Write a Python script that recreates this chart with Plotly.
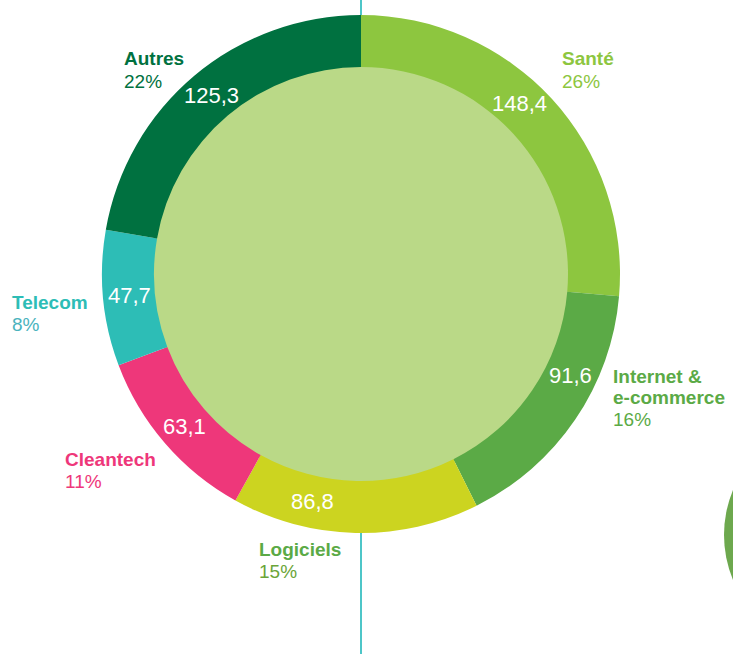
import math
import plotly.graph_objects as go

# ---- data ----
categories = ["Santé", "Internet &<br>e-commerce", "Logiciels", "Cleantech", "Telecom", "Autres"]
values = [148.4, 91.6, 86.8, 63.1, 47.7, 125.3]

# ---- styles ----
slice_colors = ["#8DC63F", "#5BAA46", "#CCD420", "#EE377A", "#2DBDB6", "#007140"]
name_colors = ["#8DC63F", "#5BAA46", "#5BAA46", "#EE377A", "#2DBDB6", "#007140"]
pct_colors = ["#8DC63F", "#5BAA46", "#6BA539", "#EE377A", "#4AB3BD", "#007140"]
# label anchor (left x, y of first line) in pixels
label_pos = [(560, 59), (611, 376), (257, 549), (63, 459), (10, 302), (122, 59)]
# angular nudge (deg) of value text inside the ring
value_nudge = [-4.5, -8.5, 10.7, 0, 0, 0]

W, H = 733, 654
CX, CY = 361, 274
R_OUT, R_IN = 259, 207
FONT = "Liberation Sans"

def px(x):
    return x / W

def py(y):
    return 1 - y / H

fig = go.Figure()
fig.add_trace(go.Pie(
    labels=categories,
    values=values,
    hole=R_IN / R_OUT,
    sort=False,
    direction="clockwise",
    rotation=0,
    marker=dict(colors=slice_colors, line=dict(width=0)),
    textinfo="none",
    hoverinfo="label+value",
    showlegend=False,
    domain=dict(x=[px(CX - R_OUT), px(CX + R_OUT)],
                y=[py(CY + R_OUT), py(CY - R_OUT)]),
))

total = sum(values)
annotations = []
cum = 0.0
for i, v in enumerate(values):
    mid = (cum + v / 2) / total * 360 + value_nudge[i]
    cum += v
    r = (R_OUT + R_IN) / 2
    tx = CX + r * math.sin(math.radians(mid))
    ty = CY - r * math.cos(math.radians(mid))
    annotations.append(dict(
        x=px(tx), y=py(ty), xref="paper", yref="paper",
        text=f"{v:.1f}".replace(".", ","), showarrow=False,
        font=dict(family=FONT, size=22, color="white"),
        xanchor="center", yanchor="middle"))
    pct = f"{round(v / total * 100)}%"
    lx, ly = label_pos[i]
    lines = categories[i].split("<br>")
    for j, ln in enumerate(lines):
        annotations.append(dict(
            x=px(lx), y=py(ly + 21 * j), xref="paper", yref="paper",
            text=f"<b>{ln}</b>", showarrow=False,
            font=dict(family=FONT, size=19, color=name_colors[i]),
            xanchor="left", yanchor="middle"))
    annotations.append(dict(
        x=px(lx), y=py(ly + 21 * len(lines) + 1), xref="paper", yref="paper",
        text=pct, showarrow=False,
        font=dict(family=FONT, size=19, color=pct_colors[i]),
        xanchor="left", yanchor="middle"))

shapes = [
    dict(type="line", xref="paper", yref="paper", x0=px(CX), x1=px(CX), y0=0, y1=1,
         line=dict(color="#4DC6C8", width=2), layer="below"),
    dict(type="circle", xref="paper", yref="paper",
         x0=px(CX - R_IN - 3), x1=px(CX + R_IN + 3), y0=py(CY + R_IN + 3), y1=py(CY - R_IN - 3),
         fillcolor="#BAD987", line=dict(width=0), layer="below"),
    dict(type="circle", xref="paper", yref="paper",
         x0=px(724), x1=px(958), y0=py(652), y1=py(418),
         fillcolor="#6DA84E", line=dict(width=0), layer="below"),
]

fig.update_layout(
    width=W, height=H,
    margin=dict(l=0, r=0, t=0, b=0),
    paper_bgcolor="white", plot_bgcolor="white",
    annotations=annotations, shapes=shapes,
    showlegend=False,
)
fig.write_html("out.html",
               config={"displayModeBar": False},
               post_script="document.body.style.margin='0';document.body.style.overflow='hidden';")
